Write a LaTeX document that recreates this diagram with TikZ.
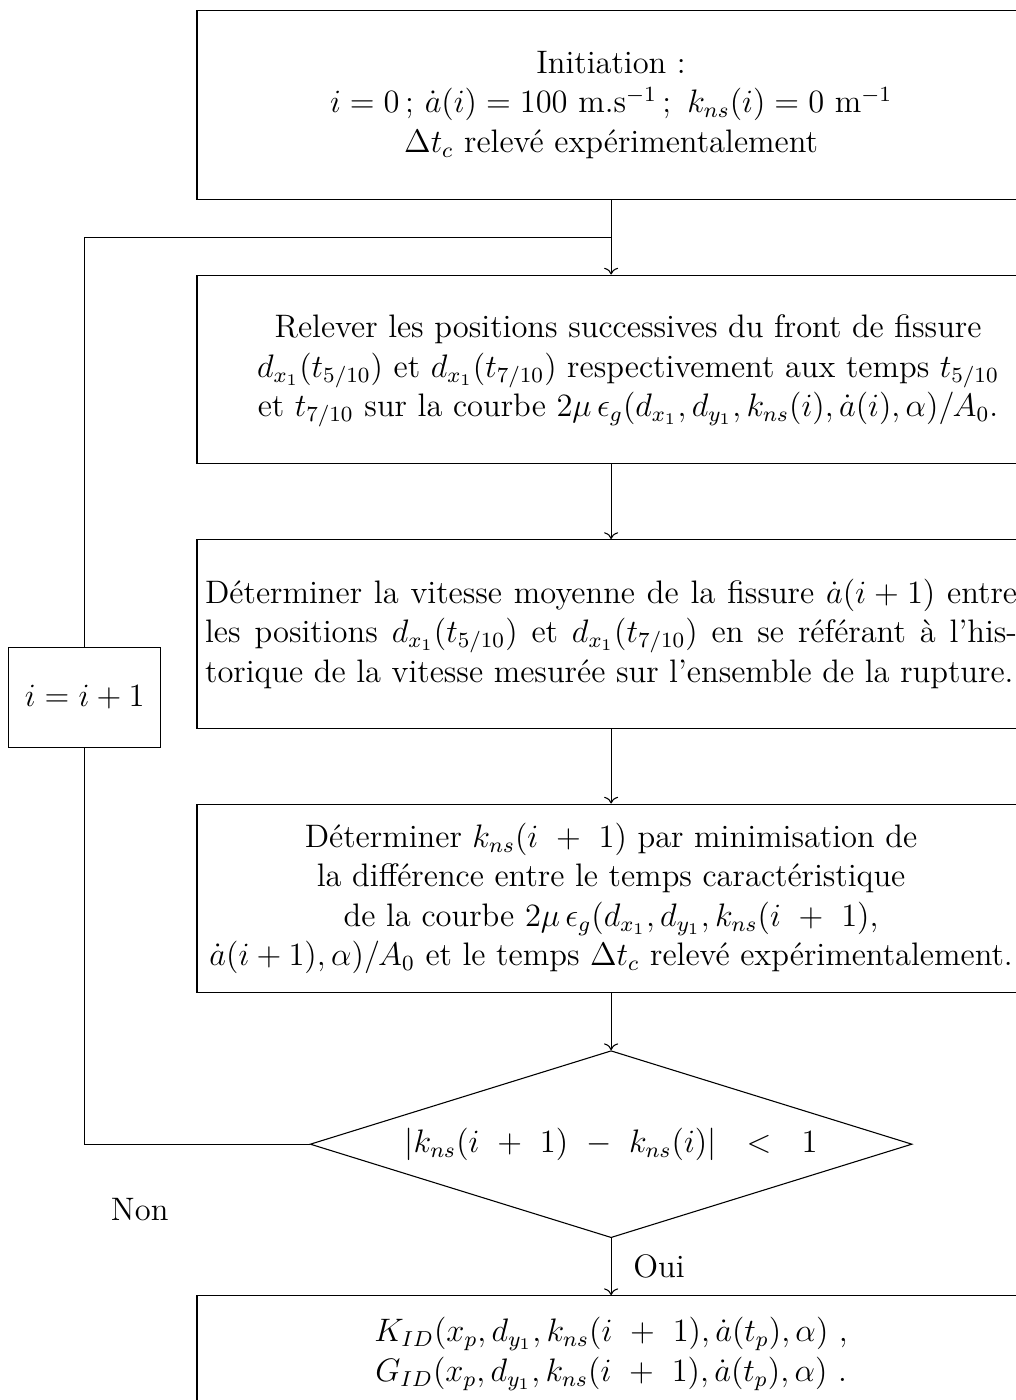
\documentclass[tikz,border=0pt,12pt]{standalone}
\usetikzlibrary{arrows.meta,positioning,shapes.geometric,calc}

\begin{document}
\begin{tikzpicture}[
  node distance=27.6pt,
  etape/.style={rectangle, draw, minimum width=305.6pt, minimum height=69.6pt,
                inner xsep=3pt, align=center},
  justif/.style={etape, text width=299.6pt, align=justify},
  test/.style={diamond, draw, aspect=3.2, inner sep=0pt,
               minimum width=222.1pt, minimum height=69pt},
  incr/.style={rectangle, draw, minimum width=56.1pt, minimum height=36.9pt},
  flow/.style={-{To}},
  lbl/.style={midway, right=4pt}
]
\useasboundingbox (-225.5pt,38.7pt) rectangle (149.1pt,-477.9pt);

\node[etape]                      (init)     {Initiation :\\
  $i = 0\,;\, \dot{a}(i) = 100$~m.s$^{-1}$\,;\, $k_{ns}(i) = 0$~m$^{-1}$\\
  $\Delta t_c$ relevé expérimentalement};
\node[etape, below=of init]       (relever)  {\hspace*{12.5pt}\begin{tabular}{@{}c@{}}
  Relever les positions successives du front de fissure\\
  $d_{x_1}(t_{5/10})$ et $d_{x_1}(t_{7/10})$ respectivement aux temps $t_{5/10}$\\
  et $t_{7/10}$ sur la courbe $2\mu\,\epsilon_g(d_{x_1},d_{y_1},k_{ns}(i),\dot{a}(i),\alpha)/A_0$.
  \end{tabular}};
\node[justif, below=of relever]   (vitesse)  {Déterminer la vitesse moyenne de la fissure $\dot{a}(i+1)$ entre\linebreak
  les positions $d_{x_1}(t_{5/10})$ et $d_{x_1}(t_{7/10})$ en se référant à l'his-\linebreak
  torique de la vitesse mesurée sur l'ensemble de la rupture.};
\node[etape, below=of vitesse]    (minim)    {Déterminer $k_{ns}(i~+~1)$ par minimisation de\\
  la différence entre le temps caractéristique\\
  de la courbe $2\mu\,\epsilon_g(d_{x_1},d_{y_1},k_{ns}(i~+~1)$,\\
  $\dot{a}(i+1),\alpha)/A_0$ et le temps $\Delta t_c$ relevé expérimentalement.};
\node[test, below=21pt of minim]  (critere)  {$|k_{ns}(i~+~1)~-~k_{ns}(i)|~~<~~1$};
\node[etape, below=21pt of critere, minimum height=43pt] (resultat)
  {$K_{ID}(x_p,d_{y_1},k_{ns}(i~+~1),\dot{a}(t_p),\alpha)$~,\\
   $G_{ID}(x_p,d_{y_1},k_{ns}(i~+~1),\dot{a}(t_p),\alpha)$~.};

% boucle de retour
\coordinate (rail)  at ($(critere.west)+(-83pt,0)$);
\coordinate (merge) at ($(init.south)!0.5!(relever.north)$);
\node[incr] (incr) at ($(rail |- vitesse.center)+(0,-23.4pt)$) {$i = i + 1$};
\node (non) at ($(rail |- critere.west)+(20.3pt,-24pt)$) {Non};

\draw[flow] (init)    -- (relever);
\draw[flow] (relever) -- (vitesse);
\draw[flow] (vitesse) -- (minim);
\draw[flow] (minim)   -- (critere);
\draw[flow] (critere) -- node[lbl]{Oui} (resultat);

\draw (critere.west) -- (rail |- critere.west) -- (incr.south);
\draw (incr.north) |- (merge);
\end{tikzpicture}
\end{document}
